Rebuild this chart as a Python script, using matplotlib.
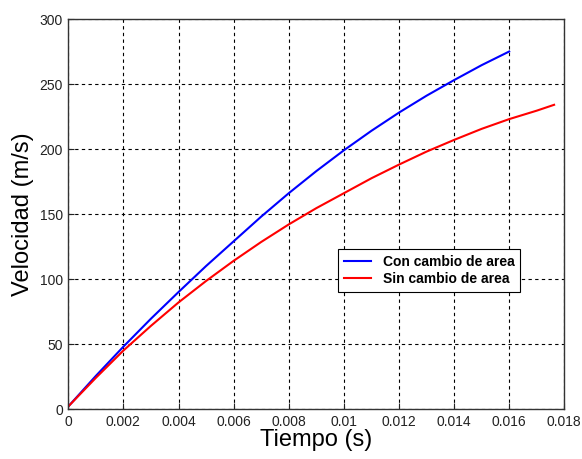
import numpy as np
import matplotlib
matplotlib.use("Agg")
from matplotlib import pyplot as plt

plt.rcParams['font.family'] = ['Liberation Sans', 'DejaVu Sans']

# tiempo (s) y velocidad (m/s) de cada caso
t_con = [0, 0.001, 0.002, 0.003, 0.004, 0.005, 0.006, 0.007, 0.008,
         0.009, 0.010, 0.011, 0.012, 0.013, 0.014, 0.015, 0.016]
v_con = [2, 25.5, 48, 69.5, 90, 110, 129, 148, 166,
         183, 199, 214, 228, 241, 253, 264.5, 275]

t_sin = [0, 0.001, 0.002, 0.003, 0.004, 0.005, 0.006, 0.007, 0.008,
         0.009, 0.010, 0.011, 0.012, 0.013, 0.014, 0.015, 0.016, 0.017, 0.01763]
v_sin = [2, 24, 45, 64, 82, 98.5, 114, 128.5, 142,
         154.5, 166, 177.5, 188, 198, 207, 215.5, 223, 229.5, 234]

x_ticks = [0, 0.002, 0.004, 0.006, 0.008, 0.01, 0.012, 0.014, 0.016, 0.018]
x_labels = ["0", "0.002", "0.004", "0.006", "0.008", "0.01", "0.012", "0.014", "0.016", "0.018"]
y_ticks = [0, 50, 100, 150, 200, 250, 300]

fig = plt.figure(figsize=(5.82, 4.59), dpi=100)
ax = fig.add_axes([0.1174, 0.1089, 0.8522, 0.8497])

ax.plot(t_con, v_con, color="#0000ff", lw=1.5, label="Con cambio de area")
ax.plot(t_sin, v_sin, color="#ff0000", lw=1.5, label="Sin cambio de area")

ax.set_xlim(0, 0.018)
ax.set_ylim(0, 300)
ax.set_xticks(x_ticks)
ax.set_xticklabels(x_labels)
ax.set_yticks(y_ticks)
ax.tick_params(direction="in", length=4, labelsize=10, colors="#222222", pad=4)
ax.grid(True, color="black", ls=(0, (3, 3)), lw=0.8)
for s in ax.spines.values():
    s.set_color("#333333")
    s.set_linewidth(1.0)

ax.set_xlabel("Tiempo (s)", fontsize=17, labelpad=0)
ax.set_ylabel("Velocidad (m/s)", fontsize=17, labelpad=4)

leg = ax.legend(loc="upper left", bbox_to_anchor=(0.544, 0.4095),
                prop={"weight": "bold", "size": 10}, fancybox=False,
                framealpha=1, edgecolor="black", borderaxespad=0,
                handlelength=2.0, labelspacing=0.25, borderpad=0.4)
leg.get_frame().set_linewidth(0.8)

plt.savefig("out.png", dpi=100)
